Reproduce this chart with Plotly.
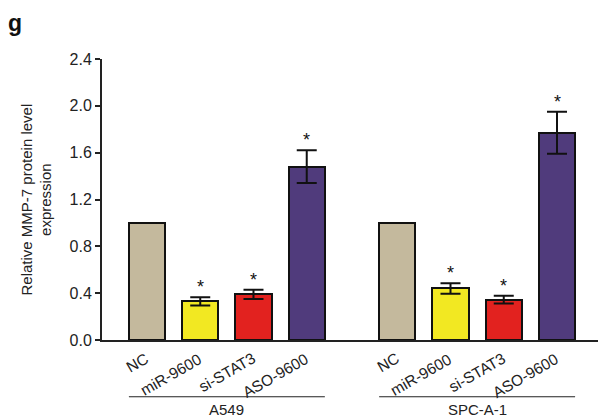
import plotly.graph_objects as go

# Relative MMP-7 protein level, two cell lines x four treatments
treatments = ["NC", "miR-9600", "si-STAT3", "ASO-9600"]
cell_lines = ["A549", "SPC-A-1"]
a549_mean = [1.00, 0.33, 0.39, 1.48]
a549_err = [0.0, 0.035, 0.04, 0.14]
spc_mean = [1.00, 0.44, 0.345, 1.77]
spc_err = [0.0, 0.045, 0.033, 0.18]
significant = [False, True, True, True]
bar_colors = ["#c4b99d", "#f2e822", "#e2221f", "#503b7c"]

W, H = 599, 419
ML, MR, MT, MB = 102, 1, 59, 79
PW, PH = W - ML - MR, H - MT - MB
FONT = "Arial, Liberation Sans, sans-serif"
FS = 15

# x positions: two groups of four bars with a wider gap between the groups
group_offset = 4.7
x_a549 = [i for i in range(len(treatments))]
x_spc = [i + group_offset for i in range(len(treatments))]

xs = x_a549 + x_spc
means = a549_mean + spc_mean
errs = a549_err + spc_err
colors = bar_colors * 2
labels = treatments * 2
stars = significant * 2

fig = go.Figure()
fig.add_trace(go.Bar(
    x=xs, y=means, width=0.68,
    marker=dict(color=colors, line=dict(color="#111111", width=2)),
    error_y=dict(type="data", array=errs, visible=True,
                 color="#111111", thickness=2, width=10),
    showlegend=False,
))

annotations = []
for x, m, e, s in zip(xs, means, errs, stars):
    if s:
        annotations.append(dict(x=x, y=m + e, xref="x", yref="y", text="*",
                                showarrow=False, yanchor="bottom", yshift=-2,
                                font=dict(size=18, color="#111111", family=FONT)))

# slanted treatment labels under each bar
for x, lab in zip(xs, labels):
    annotations.append(dict(x=x, y=0, xref="x", yref="y", text=lab, textangle=-30,
                            showarrow=False, xanchor="right", yanchor="top",
                            xshift=7, yshift=-7,
                            font=dict(size=15.5, color="#222222", family=FONT)))

# group labels with underline
shapes = []
for name, pos in zip(cell_lines, [x_a549, x_spc]):
    x0, x1 = pos[0] - 0.34, pos[-1] + 0.34
    shapes.append(dict(type="line", xref="x", yref="paper", x0=x0, x1=x1,
                       y0=-0.202, y1=-0.202, line=dict(color="#222222", width=1.2)))
    annotations.append(dict(x=(pos[0] + pos[-1]) / 2, y=-0.21, xref="x", yref="paper",
                            text=name, showarrow=False, yanchor="top",
                            font=dict(size=FS, color="#222222", family=FONT)))

# panel letter
annotations.append(dict(x=(6 - ML) / PW, y=(MT + PH - 8) / PH, xref="paper", yref="paper",
                        text="<b>g</b>", showarrow=False, xanchor="left", yanchor="top",
                        font=dict(size=23, color="#111111", family=FONT)))

# y-axis title as a rotated two-line annotation
annotations.append(dict(x=(36 - ML) / PW, y=0.5, xref="paper", yref="paper",
                        text="Relative MMP-7 protein level<br>expression",
                        textangle=-90, showarrow=False, xanchor="center", yanchor="middle",
                        font=dict(size=FS, color="#222222", family=FONT)))

fig.update_layout(
    width=W, height=H,
    margin=dict(l=ML, r=MR, t=MT, b=MB),
    paper_bgcolor="white", plot_bgcolor="white",
    font=dict(family=FONT, color="#222222", size=FS),
    bargap=0,
    shapes=shapes,
    annotations=annotations,
)

fig.update_xaxes(
    range=[-0.845, 8.47], showticklabels=False,
    showline=True, linecolor="#222222", linewidth=1.5, ticks="",
    showgrid=False, zeroline=False,
)
fig.update_yaxes(
    range=[0, 2.4], tickvals=[0, 0.4, 0.8, 1.2, 1.6, 2.0, 2.4], tickformat=".1f",
    showline=True, linecolor="#222222", linewidth=2, ticks="outside", ticklen=5,
    tickwidth=1.5, tickcolor="#222222", showgrid=False, zeroline=False,
    tickfont=dict(size=16, family=FONT),
)

fig.write_html("out.html")
